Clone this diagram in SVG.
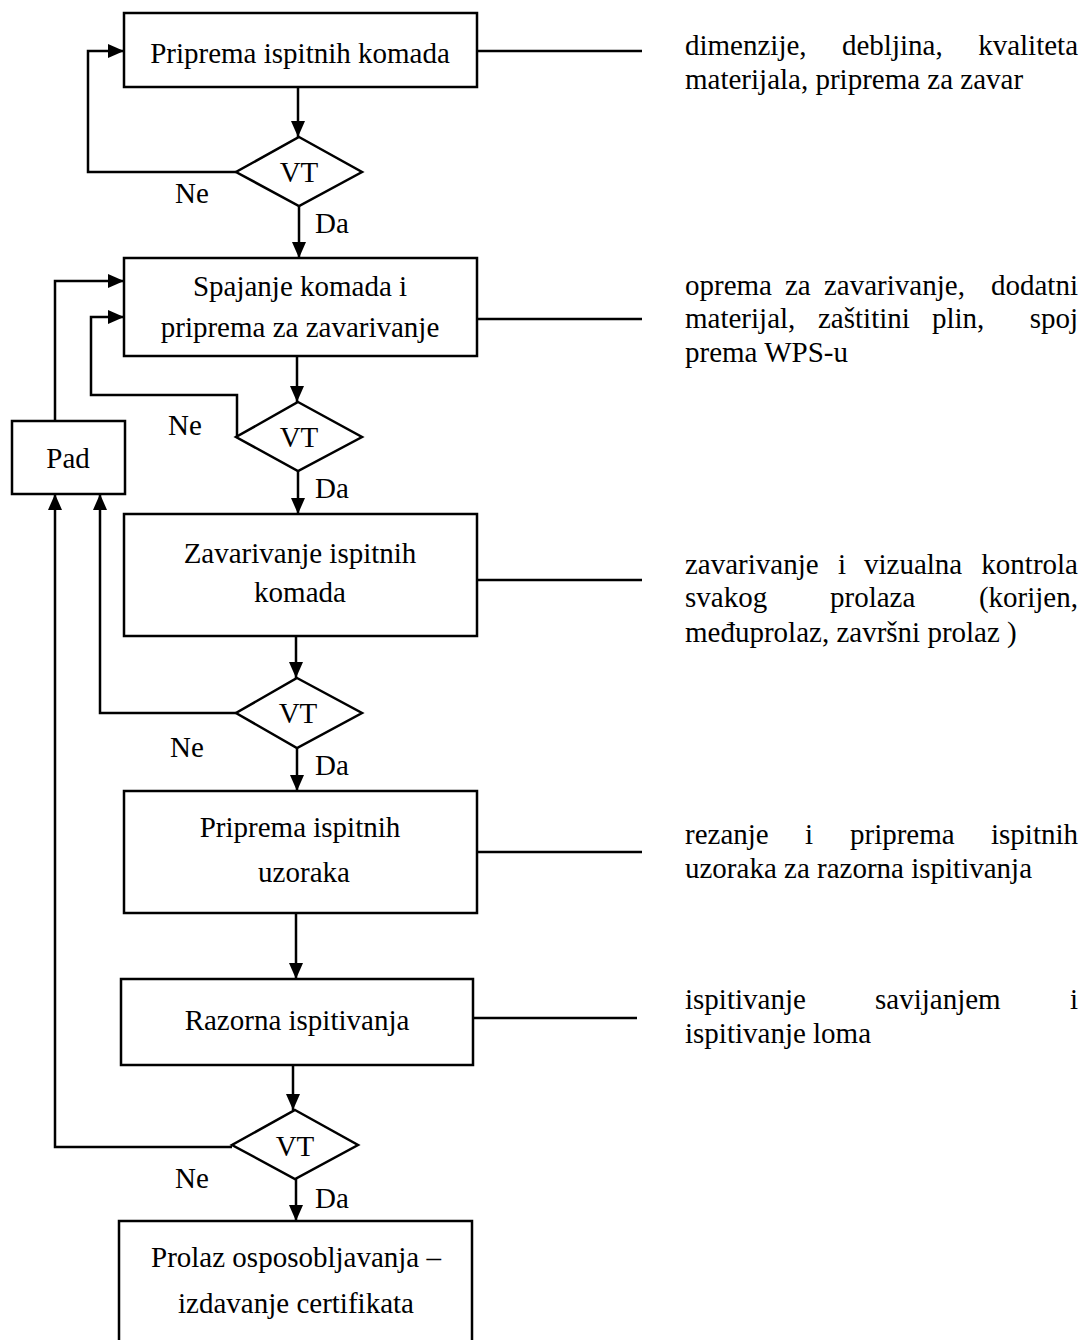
<svg xmlns="http://www.w3.org/2000/svg" width="1083" height="1340" viewBox="0 0 1083 1340">
<style>
text{font-family:"Liberation Serif","Times New Roman",serif;font-size:29px;fill:#000}
.c{text-anchor:middle}
.e{text-anchor:end}
.box{fill:#fff;stroke:#000;stroke-width:2.5}
.ln{fill:none;stroke:#000;stroke-width:2.5}
.ar{fill:none;stroke:#000;stroke-width:2.5;marker-end:url(#ah)}
</style>
<defs>
<marker id="ah" markerUnits="userSpaceOnUse" markerWidth="17" markerHeight="14" refX="16" refY="7" orient="auto" viewBox="0 0 17 14">
<path d="M0,0 L16,7 L0,14 z" fill="#000"/>
</marker>
</defs>
<rect width="1083" height="1340" fill="#fff"/>
<g id="connectors">
<path class="ar" d="M298,87 V137"/>
<path class="ar" d="M299,206 V258"/>
<path class="ar" d="M236,172 H88 V51 H124"/>
<path class="ar" d="M297,356 V402"/>
<path class="ar" d="M237,437 V395 H91 V317 H124"/>
<path class="ar" d="M298,471 V514"/>
<path class="ar" d="M55,421 V281 H124"/>
<path class="ar" d="M296,636 V678"/>
<path class="ar" d="M236,713 H100 V494"/>
<path class="ar" d="M297,748 V791"/>
<path class="ar" d="M296,913 V979"/>
<path class="ar" d="M293,1065 V1110"/>
<path class="ar" d="M232,1147 H55 V494"/>
<path class="ar" d="M296,1179 V1221"/>
<path class="ln" d="M477,51 H642"/>
<path class="ln" d="M477,319 H642"/>
<path class="ln" d="M477,580 H642"/>
<path class="ln" d="M477,852 H642"/>
<path class="ln" d="M473,1018 H637"/>
</g>
<g id="n1"><rect class="box" x="124" y="13" width="353" height="74"/><text class="c" x="300" y="63">Priprema ispitnih komada</text></g>
<g id="d1"><path class="box" d="M299,137 L362,172 L299,206 L236,172 z"/><text class="c" x="299" y="182">VT</text></g>
<g id="n2"><rect class="box" x="124" y="258" width="353" height="98"/><text class="c" x="300" y="296">Spajanje komada i</text><text class="c" x="300" y="337">priprema za zavarivanje</text></g>
<g id="d2"><path class="box" d="M298,402 L362,437 L298,471 L236,437 z"/><text class="c" x="299" y="447">VT</text></g>
<g id="pad"><rect class="box" x="12" y="421" width="113" height="73"/><text class="c" x="68" y="468">Pad</text></g>
<g id="n3"><rect class="box" x="124" y="514" width="353" height="122"/><text class="c" x="300" y="563">Zavarivanje ispitnih</text><text class="c" x="300" y="602">komada</text></g>
<g id="d3"><path class="box" d="M297,678 L362,713 L297,748 L236,713 z"/><text class="c" x="298" y="723">VT</text></g>
<g id="n4"><rect class="box" x="124" y="791" width="353" height="122"/><text class="c" x="300" y="837">Priprema ispitnih</text><text class="c" x="304" y="882">uzoraka</text></g>
<g id="n5"><rect class="box" x="121" y="979" width="352" height="86"/><text class="c" x="297" y="1030">Razorna ispitivanja</text></g>
<g id="d4"><path class="box" d="M295,1110 L358,1145 L295,1179 L232,1145 z"/><text class="c" x="295" y="1156">VT</text></g>
<g id="n6"><rect class="box" x="119" y="1221" width="353" height="140"/><text class="c" x="296" y="1267">Prolaz osposobljavanja –</text><text class="c" x="296" y="1313">izdavanje certifikata</text></g>
<g id="labels">
<text x="175" y="203">Ne</text><text x="315" y="233">Da</text>
<text x="168" y="435">Ne</text><text x="315" y="498">Da</text>
<text x="170" y="757">Ne</text><text x="315" y="775">Da</text>
<text x="175" y="1188">Ne</text><text x="315" y="1208">Da</text>
</g>
<g id="notes">
<text x="685" y="55">dimenzije,</text><text x="842" y="55">debljina,</text><text class="e" x="1078" y="55">kvaliteta</text>
<text x="685" y="89">materijala, priprema za zavar</text>
<text x="685" y="295">oprema</text><text x="785" y="295">za</text><text x="824" y="295">zavarivanje,</text><text class="e" x="1078" y="295">dodatni</text>
<text x="685" y="328">materijal,</text><text x="818" y="328">zaštitini</text><text x="932" y="328">plin,</text><text class="e" x="1078" y="328">spoj</text>
<text x="685" y="362">prema WPS-u</text>
<text x="685" y="574">zavarivanje</text><text x="838" y="574">i</text><text x="864" y="574">vizualna</text><text class="e" x="1078" y="574">kontrola</text>
<text x="685" y="607">svakog</text><text x="830" y="607">prolaza</text><text class="e" x="1078" y="607">(korijen,</text>
<text x="685" y="642">međuprolaz, završni prolaz )</text>
<text x="685" y="844">rezanje</text><text x="805" y="844">i</text><text x="850" y="844">priprema</text><text class="e" x="1078" y="844">ispitnih</text>
<text x="685" y="878">uzoraka za razorna ispitivanja</text>
<text x="685" y="1009">ispitivanje</text><text x="875" y="1009">savijanjem</text><text class="e" x="1078" y="1009">i</text>
<text x="685" y="1043">ispitivanje loma</text>
</g>
</svg>
